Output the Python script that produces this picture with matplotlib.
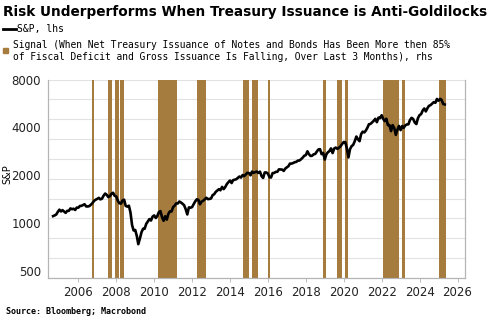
import matplotlib.pyplot as plt
import matplotlib.dates as mdates
import matplotlib.lines as mlines
import matplotlib.patches as mpatches
import numpy as np
import pandas as pd

# S&P 500 month-end level, Aug 2004 .. Apr 2025
spx_start = "2004-08-31"
spx = [
    1104, 1115, 1130, 1174, 1212,
    1181, 1204, 1181, 1157, 1192, 1191, 1234, 1220, 1229, 1207, 1249, 1248,
    1280, 1281, 1295, 1311, 1270, 1270, 1277, 1304, 1336, 1378, 1401, 1418,
    1438, 1407, 1421, 1482, 1531, 1503, 1455, 1474, 1527, 1549, 1481, 1468,
    1379, 1331, 1323, 1386, 1400, 1280, 1267, 1283, 1165, 969, 896, 903,
    826, 735, 798, 873, 919, 919, 987, 1021, 1057, 1036, 1096, 1115,
    1074, 1104, 1169, 1187, 1089, 1031, 1102, 1049, 1141, 1183, 1181, 1258,
    1286, 1327, 1326, 1364, 1345, 1321, 1292, 1219, 1131, 1253, 1247, 1258,
    1312, 1366, 1408, 1398, 1310, 1362, 1379, 1407, 1441, 1412, 1416, 1426,
    1498, 1515, 1569, 1598, 1631, 1606, 1686, 1633, 1682, 1757, 1806, 1848,
    1783, 1859, 1872, 1884, 1924, 1960, 1931, 2003, 1972, 2018, 2068, 2059,
    1995, 2105, 2068, 2086, 2107, 2063, 2104, 1972, 1920, 2079, 2080, 2044,
    1940, 1932, 2060, 2065, 2097, 2099, 2174, 2171, 2168, 2126, 2199, 2239,
    2279, 2364, 2363, 2384, 2412, 2423, 2470, 2472, 2519, 2575, 2648, 2674,
    2824, 2714, 2641, 2648, 2705, 2718, 2816, 2902, 2914, 2712, 2760, 2507,
    2704, 2784, 2834, 2946, 2752, 2942, 2980, 2926, 2977, 3038, 3141, 3231,
    3226, 2954, 2585, 2912, 3044, 3100, 3271, 3500, 3363, 3270, 3622, 3756,
    3714, 3811, 3973, 4181, 4204, 4298, 4395, 4523, 4308, 4605, 4567, 4766,
    4516, 4374, 4530, 4132, 4132, 3785, 4130, 3955, 3586, 3872, 4080, 3840,
    4077, 3970, 4109, 4169, 4180, 4450, 4589, 4508, 4288, 4194, 4568, 4770,
    4846, 5096, 5254, 5036, 5278, 5460, 5522, 5648, 5762, 5705, 6032, 5882,
    6041, 5955, 5612, 5569,
]
spx_dates = pd.date_range(spx_start, periods=len(spx), freq="ME")

# periods when the signal is on (rhs = 1)
signal_start = ["2006-09-25", "2007-07-28", "2007-12-01", "2008-03-20", "2010-03-10",
                "2012-04-05", "2014-09-05", "2015-03-05", "2015-12-25", "2018-11-20",
                "2019-09-01", "2020-01-25", "2022-02-01", "2023-02-01", "2024-12-31"]
signal_end = ["2006-11-05", "2007-10-15", "2008-02-25", "2008-05-20", "2011-03-15",
              "2012-09-25", "2014-12-28", "2015-06-25", "2016-02-01", "2019-01-25",
              "2019-12-01", "2020-04-01", "2022-11-25", "2023-03-20", "2025-05-15"]

left_ticks = [500, 1000, 2000, 4000, 8000]
year_ticks = list(range(2006, 2027, 2))

gold = "#a67b3e"
grey = "#b4b4b4"

fig = plt.figure(figsize=(5, 3.22), dpi=100)
ax = fig.add_axes([0.096, 0.1366, 0.834, 0.6165])
ax2 = ax.twinx()

# signal bars on the right axis (hidden), gridlines come from it
for s, e in zip(signal_start, signal_end):
    ax2.axvspan(pd.Timestamp(s), pd.Timestamp(e), ymin=0, ymax=1, color=gold, lw=0)
ax2.set_ylim(0, 1)
ax2.set_yticks(np.arange(0, 1.01, 0.1))
ax2.grid(axis="y", color="#e2e2e2", lw=0.8)
ax2.tick_params(axis="y", length=0, labelright=False)
ax2.set_axisbelow(True)

ax.set_zorder(ax2.get_zorder() + 1)
ax.patch.set_visible(False)
ax.plot(spx_dates, spx, color="black", lw=1.9, solid_joinstyle="round")
ax.set_yscale("log")
ax.set_ylim(450, 8000)
ax.set_yticks(left_ticks)
ax.set_yticklabels([str(t) for t in left_ticks])
ax.yaxis.set_minor_locator(plt.NullLocator())
ax.set_ylabel("S&P", fontsize=7)
ax.yaxis.set_label_coords(-0.085, 0.524)
ax.tick_params(axis="y", length=0, pad=5, labelsize=8.5, colors="#222222")

ax.set_xlim(pd.Timestamp("2004-05-25"), pd.Timestamp("2026-05-25"))
ax.set_xticks([pd.Timestamp(f"{y}-01-01") for y in year_ticks])
ax.xaxis.set_major_formatter(mdates.DateFormatter("%Y"))
ax.tick_params(axis="x", length=3, width=0.6, pad=3, labelsize=8.5,
               colors="#222222", color=grey)

for a in (ax, ax2):
    a.spines["top"].set_visible(False)
    for sp in ("left", "right", "bottom"):
        a.spines[sp].set_color(grey)
        a.spines[sp].set_linewidth(0.8)

title = fig.text(0.006, 0.963, "Risk Underperforms When Treasury Issuance is Anti-Goldilocks",
                 fontsize=9, fontweight="bold", va="center", ha="left")
# fit the title to the width it has in the original (about 482 px)
size = 9.0
for _ in range(6):
    fig.canvas.draw()
    w = title.get_window_extent().width
    size = size * 482 / w
    title.set_fontsize(size)
fig.canvas.draw()
while title.get_window_extent().x1 > 492:
    size -= 0.1
    title.set_fontsize(size)
    fig.canvas.draw()

fig.add_artist(mlines.Line2D([0.006, 0.032], [0.91, 0.91], color="black", lw=2,
                             transform=fig.transFigure))
fig.text(0.034, 0.91, "S&P, lhs", fontsize=7, family="DejaVu Sans Mono", va="center")
fig.add_artist(mpatches.Rectangle((0.006, 0.834), 0.009, 0.016, color=gold,
                                  transform=fig.transFigure))
fig.text(0.026, 0.842,
         "Signal (When Net Treasury Issuance of Notes and Bonds Has Been More then 85%\n"
         "of Fiscal Deficit and Gross Issuance Is Falling, Over Last 3 Months), rhs",
         fontsize=6.9, family="DejaVu Sans Mono", va="center", linespacing=1.2)

fig.text(0.012, 0.032, "Source: Bloomberg; Macrobond", fontsize=6,
         family="DejaVu Sans Mono", fontweight="bold", va="center")

fig.savefig("out.png", dpi=100)
